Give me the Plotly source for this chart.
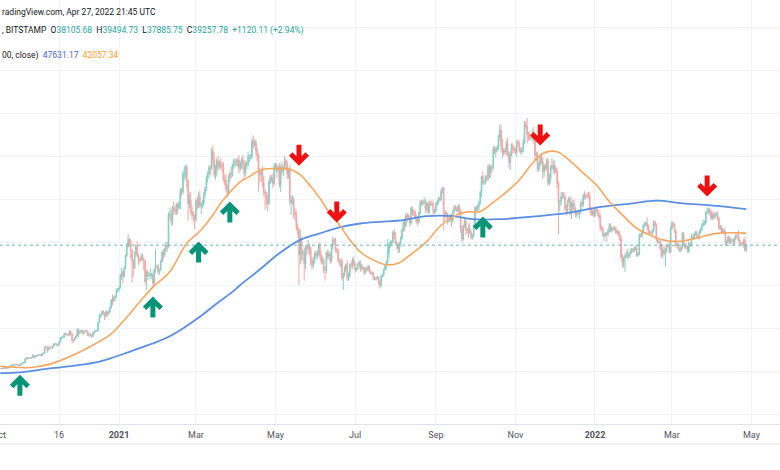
import plotly.graph_objects as go
import pandas as pd

# ---------------- data (prices in thousands of USD) ----------------
start_date = "2020-09-29"
first_open_k = 10.70

closes_k = [
    10.84, 10.78,
    10.62, 10.58, 10.55, 10.67, 10.79, 10.60, 10.67, 10.92, 11.06, 11.30, 11.38, 11.55, 11.43, 11.43, 11.50, 11.32, 11.37, 11.76, 11.92, 11.92, 12.82, 12.99, 12.93, 13.13, 13.04, 13.08, 13.65, 13.28, 13.46, 13.56, 13.80,
    13.76, 13.55, 14.03, 14.16, 15.59, 15.58, 14.83, 15.48, 15.33, 15.30, 15.70, 16.28, 16.33, 16.07, 15.97, 16.72, 17.66, 17.80, 17.82, 18.66, 18.70, 18.42, 18.37, 19.16, 18.73, 17.15, 17.14, 17.72, 18.18, 19.70,
    18.77, 19.20, 19.45, 18.70, 19.15, 19.36, 19.17, 18.32, 18.55, 18.26, 18.06, 18.80, 19.17, 19.27, 19.43, 21.33, 22.80, 23.14, 23.87, 23.48, 22.75, 23.82, 23.24, 23.73, 24.71, 26.49, 26.28, 27.08, 27.36, 28.84, 29.00,
    29.4, 32.2, 33.0, 32.0, 34.0, 36.8, 39.4, 40.6, 40.2, 38.2, 35.5, 34.0, 37.4, 39.1, 36.8, 36.0, 35.8, 36.6, 36.0, 35.5, 30.8, 33.0, 32.1, 32.3, 32.3, 32.5, 30.4, 33.5, 34.3, 34.3, 33.1,
    33.5, 35.5, 37.6, 36.9, 38.3, 39.3, 38.9, 46.4, 46.5, 44.8, 48.0, 47.4, 47.2, 48.6, 47.9, 49.1, 52.1, 51.6, 55.9, 55.9, 57.4, 54.1, 48.9, 49.7, 47.0, 46.3, 46.1, 45.2,
    49.6, 48.4, 50.5, 48.4, 48.8, 48.9, 51.2, 52.4, 54.9, 55.9, 57.3, 57.2, 61.2, 59.0, 55.6, 56.9, 58.9, 57.6, 58.3, 58.1, 57.4, 54.5, 54.3, 52.3, 51.3, 55.0, 55.9, 55.8, 57.6, 58.8, 58.8,
    58.7, 59.0, 57.1, 58.2, 59.1, 58.0, 56.0, 58.1, 58.1, 59.8, 59.8, 59.9, 63.5, 62.9, 63.2, 61.3, 60.0, 56.2, 55.7, 56.5, 53.8, 51.7, 51.2, 50.1, 49.0, 54.0, 55.0, 54.9, 53.6, 57.8,
    57.8, 56.6, 57.2, 53.2, 57.5, 56.4, 57.4, 58.9, 58.3, 55.8, 56.7, 49.2, 49.7, 49.9, 46.8, 46.4, 43.5, 42.9, 37.0, 40.8, 37.3, 37.5, 34.8, 38.8, 38.4, 39.3, 38.5, 35.7, 34.6, 35.7, 37.3,
    36.7, 37.6, 39.2, 36.9, 35.5, 35.8, 33.6, 33.4, 37.4, 36.7, 37.3, 35.6, 39.1, 40.5, 40.2, 38.3, 38.1, 35.8, 35.5, 35.6, 31.7, 32.5, 33.7, 34.7, 31.6, 32.2, 34.7, 34.5, 35.9, 35.0,
    33.5, 33.8, 34.7, 35.3, 33.7, 34.2, 33.9, 32.9, 33.8, 33.5, 34.3, 33.1, 32.7, 32.8, 31.8, 31.4, 31.5, 31.8, 30.8, 29.8, 32.1, 32.3, 33.6, 34.3, 35.4, 37.3, 39.4, 40.0, 40.0, 42.2, 41.5,
    39.9, 39.2, 38.2, 39.7, 40.9, 42.8, 44.6, 43.8, 46.3, 45.6, 45.6, 44.4, 47.8, 47.1, 47.0, 45.9, 44.7, 44.7, 46.8, 49.3, 48.9, 49.3, 49.5, 47.7, 48.9, 47.0, 49.1, 48.9, 48.8, 47.0, 47.2,
    48.8, 49.3, 50.0, 49.9, 51.8, 52.7, 46.9, 46.1, 46.4, 44.9, 45.2, 46.1, 44.9, 47.1, 48.1, 47.8, 47.3, 48.3, 47.2, 43.0, 40.7, 43.6, 44.9, 42.8, 42.7, 43.2, 42.2, 41.0, 41.5, 43.8,
    48.1, 47.6, 48.2, 49.2, 51.5, 55.3, 53.8, 53.9, 55.0, 54.7, 57.5, 56.0, 57.4, 57.3, 61.7, 60.9, 61.5, 62.0, 64.3, 66.0, 62.2, 60.7, 61.3, 60.9, 63.0, 60.4, 58.5, 60.6, 62.3, 61.8, 61.3,
    61.0, 63.2, 62.9, 61.4, 61.0, 61.5, 63.3, 67.5, 66.9, 64.9, 64.9, 64.2, 64.4, 65.5, 63.6, 60.1, 60.4, 56.9, 58.1, 59.7, 58.7, 56.3, 57.6, 57.2, 58.9, 53.6, 54.8, 57.3, 57.8, 57.0,
    57.2, 56.5, 53.6, 49.2, 49.4, 50.6, 50.6, 50.5, 47.7, 47.2, 49.4, 50.1, 46.7, 48.4, 48.9, 47.6, 46.2, 46.9, 46.7, 46.9, 49.0, 48.6, 50.8, 50.4, 50.8, 50.7, 50.6, 47.6, 46.5, 47.1, 46.2,
    47.7, 47.3, 46.4, 45.8, 43.4, 43.1, 41.5, 41.7, 41.9, 41.8, 42.7, 43.9, 42.6, 43.1, 43.2, 43.1, 42.2, 42.4, 41.7, 40.7, 36.5, 35.1, 36.3, 36.7, 36.9, 36.8, 37.2, 37.7, 38.2, 37.9, 38.5,
    38.7, 36.9, 37.3, 41.6, 41.4, 42.4, 43.8, 44.1, 44.4, 43.6, 42.4, 42.2, 42.1, 42.6, 44.6, 43.9, 40.6, 40.0, 40.1, 38.4, 37.0, 38.2, 37.3, 38.3, 39.2, 39.1, 37.7, 43.2,
    44.4, 43.9, 42.5, 39.1, 39.4, 38.4, 38.0, 38.7, 41.9, 39.4, 38.7, 38.8, 37.8, 39.7, 39.3, 41.1, 40.9, 41.8, 42.2, 41.3, 41.0, 42.4, 42.9, 44.0, 44.3, 44.5, 46.8, 47.1, 47.5, 47.1, 45.5,
    46.3, 45.8, 46.4, 46.6, 45.5, 43.2, 43.5, 42.3, 42.8, 42.2, 39.5, 40.1, 41.1, 39.9, 40.5, 40.4, 39.7, 40.8, 41.5, 41.4, 40.5, 39.7, 39.5, 39.5, 40.4, 38.106, 39.258,
]

# upper / lower wick beyond the candle body, percent of price
wick_up_pct = [
    1, 1,
    1, 1, 0, 1, 1, 1, 1, 1, 1, 1, 1, 1, 1, 0, 1, 1, 0, 1, 1, 1, 1, 2, 1, 1, 1, 1, 2, 1, 1, 1, 1,
    1, 1, 1, 1, 1, 2, 1, 1, 3, 1, 1, 1, 1, 1, 1, 1, 1, 1, 2, 1, 1, 1, 1, 2, 1, 1, 1, 1, 1, 1,
    1, 1, 1, 1, 1, 1, 1, 1, 1, 1, 1, 1, 1, 1, 1, 1, 2, 1, 1, 1, 1, 1, 1, 1, 1, 1, 5, 1, 1, 1, 1,
    1, 1, 3, 1, 1, 1, 1, 3, 1, 1, 0, 1, 1, 1, 3, 1, 1, 2, 2, 1, 1, 1, 2, 2, 5, 1, 1, 1, 12, 1, 2,
    1, 1, 1, 2, 1, 2, 2, 1, 3, 2, 1, 3, 2, 1, 1, 1, 1, 1, 1, 3, 1, 1, 1, 3, 4, 3, 2, 1,
    1, 2, 2, 3, 1, 2, 1, 1, 1, 1, 1, 1, 1, 2, 3, 2, 1, 2, 1, 2, 1, 2, 2, 3, 2, 1, 1, 3, 1, 1, 1,
    1, 1, 2, 1, 1, 2, 2, 1, 1, 2, 1, 1, 1, 2, 1, 1, 1, 1, 2, 1, 2, 3, 1, 1, 2, 1, 1, 1, 2, 1,
    1, 1, 1, 2, 1, 2, 1, 2, 1, 1, 1, 2, 2, 2, 1, 2, 2, 2, 1, 5, 1, 2, 3, 1, 1, 3, 1, 1, 2, 2, 1,
    2, 1, 1, 2, 3, 2, 1, 2, 1, 2, 2, 1, 1, 2, 1, 2, 1, 1, 1, 1, 2, 1, 2, 1, 3, 2, 1, 2, 1, 2,
    1, 1, 1, 1, 1, 2, 1, 1, 1, 1, 1, 1, 1, 1, 1, 1, 1, 1, 1, 1, 1, 1, 1, 1, 1, 9, 1, 1, 1, 1, 2,
    2, 1, 1, 1, 1, 1, 1, 2, 1, 1, 2, 1, 1, 1, 1, 1, 1, 2, 1, 1, 1, 1, 2, 1, 1, 1, 1, 1, 2, 1, 1,
    1, 1, 1, 1, 1, 0, 0, 1, 2, 1, 1, 1, 1, 1, 1, 1, 1, 1, 1, 1, 2, 1, 1, 1, 1, 2, 3, 1, 1, 1,
    0, 1, 1, 1, 1, 0, 2, 1, 1, 1, 1, 1, 1, 1, 1, 1, 1, 1, 1, 2, 2, 3, 1, 1, 1, 2, 1, 1, 1, 1, 1,
    1, 1, 1, 1, 1, 1, 1, 1, 1, 3, 1, 1, 1, 1, 2, 1, 1, 1, 1, 1, 1, 2, 1, 1, 1, 1, 2, 1, 3, 2,
    3, 1, 1, 1, 1, 2, 2, 2, 2, 2, 1, 1, 1, 2, 2, 2, 1, 1, 1, 1, 1, 2, 1, 2, 1, 1, 2, 2, 1, 1, 1,
    0, 1, 1, 2, 2, 1, 1, 1, 1, 1, 1, 1, 1, 1, 1, 1, 1, 1, 1, 2, 2, 2, 1, 2, 3, 4, 1, 2, 1, 1, 1,
    1, 1, 1, 1, 1, 1, 1, 1, 1, 3, 1, 1, 1, 1, 1, 1, 1, 1, 1, 1, 3, 2, 3, 1, 1, 1, 2, 1,
    1, 1, 1, 1, 1, 1, 1, 1, 1, 1, 1, 1, 1, 1, 1, 2, 1, 1, 1, 1, 1, 1, 1, 1, 2, 1, 1, 2, 1, 1, 1,
    1, 2, 1, 1, 1, 1, 1, 1, 1, 1, 1, 1, 1, 1, 1, 1, 1, 1, 1, 1, 3, 1, 1, 1, 1, 2, 1,
]
wick_dn_pct = [
    1, 1,
    1, 1, 1, 1, 1, 1, 1, 1, 1, 1, 1, 1, 2, 1, 1, 1, 1, 1, 1, 1, 1, 1, 2, 1, 1, 1, 1, 3, 1, 1, 1,
    1, 1, 1, 1, 1, 1, 4, 1, 2, 1, 1, 1, 1, 1, 2, 1, 1, 2, 1, 1, 1, 1, 2, 1, 2, 4, 3, 1, 1, 1,
    5, 1, 1, 1, 1, 1, 1, 1, 2, 1, 2, 1, 1, 1, 1, 1, 1, 2, 1, 2, 4, 1, 3, 1, 1, 1, 4, 1, 3, 1, 2,
    2, 1, 3, 5, 1, 1, 1, 2, 3, 5, 14, 6, 1, 2, 1, 4, 2, 1, 1, 6, 2, 6, 1, 3, 1, 3, 4, 1, 2, 1, 2,
    2, 1, 1, 3, 1, 2, 3, 1, 2, 2, 2, 2, 2, 2, 3, 1, 3, 2, 1, 3, 2, 3, 8, 2, 1, 2, 3, 5,
    1, 2, 1, 1, 4, 2, 1, 2, 1, 2, 2, 3, 1, 2, 1, 2, 3, 2, 1, 2, 2, 1, 2, 1, 2, 1, 2, 2, 1, 1, 2,
    2, 2, 2, 1, 2, 2, 3, 1, 2, 1, 2, 1, 1, 2, 1, 2, 2, 8, 3, 3, 2, 2, 7, 3, 4, 1, 1, 2, 2, 1,
    2, 3, 1, 1, 3, 1, 2, 1, 3, 2, 2, 1, 6, 2, 3, 3, 2, 3, 19, 6, 5, 4, 11, 3, 4, 2, 4, 3, 3, 2, 2,
    2, 2, 2, 2, 2, 2, 3, 7, 2, 2, 2, 2, 1, 2, 2, 2, 2, 2, 3, 4, 2, 9, 2, 2, 2, 2, 2, 2, 2, 2,
    2, 1, 1, 1, 2, 1, 1, 2, 1, 1, 1, 1, 1, 1, 2, 1, 1, 1, 2, 2, 1, 1, 1, 1, 2, 2, 3, 2, 2, 1, 2,
    1, 2, 2, 2, 2, 1, 1, 3, 1, 2, 1, 2, 1, 2, 2, 2, 1, 2, 1, 1, 1, 1, 1, 2, 1, 1, 1, 1, 1, 2, 1,
    1, 1, 1, 1, 1, 1, 9, 2, 1, 2, 1, 1, 3, 1, 1, 1, 1, 1, 1, 2, 2, 1, 1, 3, 2, 4, 1, 1, 1, 1,
    1, 2, 1, 2, 1, 2, 1, 1, 1, 1, 1, 2, 2, 2, 1, 1, 2, 1, 1, 1, 2, 2, 1, 1, 1, 1, 2, 3, 1, 2, 1,
    1, 2, 1, 1, 1, 1, 1, 1, 1, 3, 2, 1, 1, 1, 1, 2, 2, 1, 1, 1, 1, 3, 2, 1, 1, 1, 1, 2, 1, 2,
    2, 1, 2, 15, 4, 2, 1, 1, 1, 2, 1, 1, 1, 3, 3, 1, 1, 1, 1, 3, 1, 1, 1, 1, 1, 1, 1, 1, 1, 1, 1,
    1, 1, 1, 1, 2, 1, 1, 3, 1, 4, 1, 1, 1, 1, 1, 1, 1, 1, 1, 1, 2, 3, 3, 9, 1, 2, 2, 2, 1, 1, 1,
    1, 1, 1, 1, 1, 1, 1, 1, 1, 2, 1, 1, 1, 2, 1, 1, 1, 1, 1, 1, 2, 2, 1, 8, 2, 1, 1, 1,
    1, 1, 1, 1, 1, 1, 1, 1, 1, 1, 1, 1, 1, 1, 1, 1, 1, 1, 1, 1, 1, 1, 1, 1, 1, 1, 1, 1, 1, 2, 1,
    1, 1, 1, 1, 1, 1, 1, 1, 1, 1, 1, 1, 1, 1, 1, 1, 1, 1, 1, 1, 1, 1, 1, 1, 2, 1, 1,
]

ma200_dates = ["2020-10-02", "2020-10-17", "2020-11-09", "2020-12-02", "2020-12-17", "2020-12-28",
               "2021-01-11", "2021-01-25", "2021-02-07", "2021-02-19", "2021-03-04", "2021-03-17",
               "2021-03-29", "2021-04-04", "2021-04-19", "2021-05-04", "2021-05-20", "2021-06-04",
               "2021-06-19", "2021-07-05", "2021-07-20", "2021-08-04", "2021-08-25", "2021-09-14",
               "2021-09-29", "2021-10-20", "2021-11-14", "2021-12-10", "2022-01-04", "2022-01-30",
               "2022-02-17", "2022-03-09", "2022-04-04", "2022-04-27"]
ma200_k = [9.5, 9.7, 10.6, 11.4, 12.2, 13.2, 14.7, 16.2, 17.8, 19.9, 22.6, 25.7,
           28.4, 30.0, 33.6, 37.4, 40.5, 42.0, 43.4, 44.3, 44.7, 45.0, 46.0, 46.0,
           45.3, 45.3, 45.9, 46.7, 48.1, 49.0, 49.6, 49.0, 48.4, 47.63]

ma50_dates = ["2020-10-02", "2020-10-25", "2020-11-09", "2020-11-24", "2020-12-10", "2020-12-25",
              "2021-01-04", "2021-01-17", "2021-01-27", "2021-02-09", "2021-02-22", "2021-03-04",
              "2021-03-14", "2021-03-22", "2021-04-04", "2021-04-11", "2021-04-19", "2021-04-29",
              "2021-05-12", "2021-05-20", "2021-05-27", "2021-06-04", "2021-06-11", "2021-06-19",
              "2021-06-27", "2021-07-05", "2021-07-15", "2021-07-25", "2021-08-04", "2021-08-14",
              "2021-08-25", "2021-09-04", "2021-09-14", "2021-09-25", "2021-10-04", "2021-10-14",
              "2021-10-27", "2021-11-04", "2021-11-14", "2021-11-22", "2021-12-03", "2021-12-12",
              "2021-12-22", "2022-01-02", "2022-01-12", "2022-01-22", "2022-02-02", "2022-02-12",
              "2022-02-22", "2022-03-05", "2022-03-14", "2022-03-24", "2022-04-04", "2022-04-27"]
ma50_k = [11.1, 10.8, 11.6, 13.3, 15.7, 18.4, 21.5, 26.1, 29.5, 33.1, 39.7, 42.5,
          46.3, 49.8, 54.0, 55.2, 56.7, 57.1, 56.9, 55.6, 53.3, 50.2, 47.0, 44.0,
          40.5, 37.7, 35.8, 34.7, 35.2, 37.4, 40.1, 43.6, 45.9, 47.0, 47.0, 49.0,
          52.1, 54.4, 58.3, 60.6, 61.0, 59.1, 56.3, 53.3, 49.4, 46.3, 43.2, 41.6,
          40.5, 40.1, 40.5, 41.2, 42.0, 42.06]

up_arrow_dates = ["2020-10-17", "2021-01-27", "2021-03-03", "2021-03-27", "2021-10-07"]
up_arrow_k = [6.7, 24.9, 37.7, 47.0, 43.5]
down_arrow_dates = ["2021-05-19", "2021-06-17", "2021-11-20", "2022-03-28"]
down_arrow_k = [60.2, 47.0, 64.9, 53.0]

tick_dates = ["2020-11-16", "2021-01-01", "2021-03-01", "2021-05-01", "2021-07-01",
              "2021-09-01", "2021-11-01", "2022-01-01", "2022-03-01", "2022-05-01"]
tick_labels = ["16", "<b>2021</b>", "Mar", "May", "Jul", "Sep", "Nov", "<b>2022</b>", "Mar", "May"]
cut_tick_date = "2020-10-01"
cut_tick_label = "Oct"

header_text = "radingView.com, Apr 27, 2022 21:45 UTC"
symbol_tail = ", BITSTAMP"
ohlc_letters = ["O", "H", "L", "C"]
ohlc_values = ["38105.68", "39494.73", "37885.75", "39257.78"]
change_text = "+1120.11 (+2.94%)"
ma_tail = "00, close)"
ma_values = ["47631.17", "42057.34"]
last_close = 39257.78

x_range = ["2020-10-01 18:00", "2022-05-22 21:00"]

# ---------------- build candles ----------------
n = min(len(closes_k), len(wick_up_pct), len(wick_dn_pct))
dates = pd.date_range(start_date, periods=n, freq="D")
closes = [c * 1000 for c in closes_k[:n]]
opens = [first_open_k * 1000] + closes[:-1]
highs = [max(o, c) * (1 + u / 100) for o, c, u in zip(opens, closes, wick_up_pct)]
lows = [min(o, c) * (1 - d / 100) for o, c, d in zip(opens, closes, wick_dn_pct)]

UP = "#86cfc5"
DN = "#f5a5a3"
BLUE = "#5a8fe3"
ORANGE = "#f8a65e"
FONT = "Roboto"

fig = go.Figure()
fig.add_trace(go.Candlestick(
    x=dates, open=opens, high=highs, low=lows, close=closes,
    increasing=dict(line=dict(color=UP, width=1), fillcolor=UP),
    decreasing=dict(line=dict(color=DN, width=1), fillcolor=DN),
    whiskerwidth=0, hoverinfo="skip"))
fig.add_trace(go.Scatter(x=pd.to_datetime(ma200_dates), y=[v * 1000 for v in ma200_k],
                         mode="lines", line=dict(color=BLUE, width=1.8, shape="spline", smoothing=1.0),
                         hoverinfo="skip"))
fig.add_trace(go.Scatter(x=pd.to_datetime(ma50_dates), y=[v * 1000 for v in ma50_k],
                         mode="lines", line=dict(color=ORANGE, width=1.6, shape="spline", smoothing=1.0),
                         hoverinfo="skip"))

shapes = []
# dotted last-price line
shapes.append(dict(type="line", xref="paper", yref="y", x0=0, x1=1, y0=last_close, y1=last_close,
                   line=dict(color="#5fbdb3", width=1, dash="dot"), layer="above"))
# arrows (pixel-sized paths anchored on data points)
up_path = "M 0 10.5 L 10 0.5 L 6.5 -3 L 2.5 1 L 2.5 -10.5 L -2.5 -10.5 L -2.5 1 L -6.5 -3 L -10 0.5 Z"
down_path = "M 0 -10.5 L 10 -0.5 L 6.5 3 L 2.5 -1 L 2.5 10.5 L -2.5 10.5 L -2.5 -1 L -6.5 3 L -10 -0.5 Z"
for d, v in zip(up_arrow_dates, up_arrow_k):
    shapes.append(dict(type="path", xref="x", yref="y", xsizemode="pixel", ysizemode="pixel",
                       xanchor=d, yanchor=v * 1000, path=up_path, fillcolor="#089476",
                       line=dict(width=0), layer="above"))
for d, v in zip(down_arrow_dates, down_arrow_k):
    shapes.append(dict(type="path", xref="x", yref="y", xsizemode="pixel", ysizemode="pixel",
                       xanchor=d, yanchor=v * 1000, path=down_path, fillcolor="#f20f0f",
                       line=dict(width=0), layer="above"))
# bottom border of the time axis
shapes.append(dict(type="line", xref="paper", yref="paper", x0=0, x1=1, y0=-0.047, y1=-0.047,
                   line=dict(color="#e0e3eb", width=1)))

PLOT_H = 424.0


def py(pix):
    return 1 - pix / PLOT_H


# paper position of the partly hidden first month label
t0, t1 = pd.Timestamp(x_range[0]), pd.Timestamp(x_range[1])
cut_x = (pd.Timestamp(cut_tick_date) - t0) / (t1 - t0)

TEAL = "#26a69a"
DARK = "#131722"
line2 = (symbol_tail + "&nbsp;&nbsp;" +
         "&nbsp;&nbsp;".join(f"{l}<span style='color:{TEAL}'>{v}</span>"
                             for l, v in zip(ohlc_letters, ohlc_values)) +
         f"&nbsp;&nbsp;<span style='color:{TEAL}'>{change_text}</span>")
line3 = (ma_tail + f"&nbsp;&nbsp;<span style='color:#3d63e0'>{ma_values[0]}</span>"
         f"&nbsp;&nbsp;<span style='color:#ff9a1f'>{ma_values[1]}</span>")

annotations = [
    dict(text=header_text, x=0, y=py(12), xref="paper", yref="paper", xanchor="left", yanchor="middle",
         showarrow=False, font=dict(family=FONT, size=8.5, color=DARK)),
    dict(text=line2, x=0, y=py(31), xref="paper", yref="paper", xanchor="left", yanchor="middle",
         showarrow=False, font=dict(family=FONT, size=8.5, color=DARK)),
    dict(text=line3, x=0, y=py(55), xref="paper", yref="paper", xanchor="left", yanchor="middle",
         showarrow=False, font=dict(family=FONT, size=8.5, color=DARK)),
    dict(text=cut_tick_label, x=cut_x, y=py(435), xref="paper", yref="paper", xanchor="center",
         yanchor="middle", showarrow=False, font=dict(family=FONT, size=9, color="#50535e")),
]

fig.update_layout(
    width=780, height=470,
    margin=dict(l=0, r=0, t=0, b=470 - int(PLOT_H)),
    paper_bgcolor="white", plot_bgcolor="white",
    showlegend=False,
    shapes=shapes, annotations=annotations,
    xaxis=dict(type="date", range=x_range,
               rangeslider=dict(visible=False),
               tickvals=tick_dates, ticktext=tick_labels, ticks="",
               tickfont=dict(family=FONT, size=9, color="#50535e"),
               ticklabelstandoff=2,
               showgrid=True, gridcolor="#f0f3fa", gridwidth=1,
               showline=True, linecolor="#e0e3eb", linewidth=1, zeroline=False),
    yaxis=dict(range=[-2326, 96280], tickvals=[i * 10000 for i in range(10)],
               showticklabels=False, showgrid=True, gridcolor="#f0f3fa", gridwidth=1,
               zeroline=False, showline=False, fixedrange=True),
)

# the page's default 8px body margin would shift the figure; remove it
fig.write_html("out.html", config={"displayModeBar": False},
               post_script="document.body.style.margin='0px';")
